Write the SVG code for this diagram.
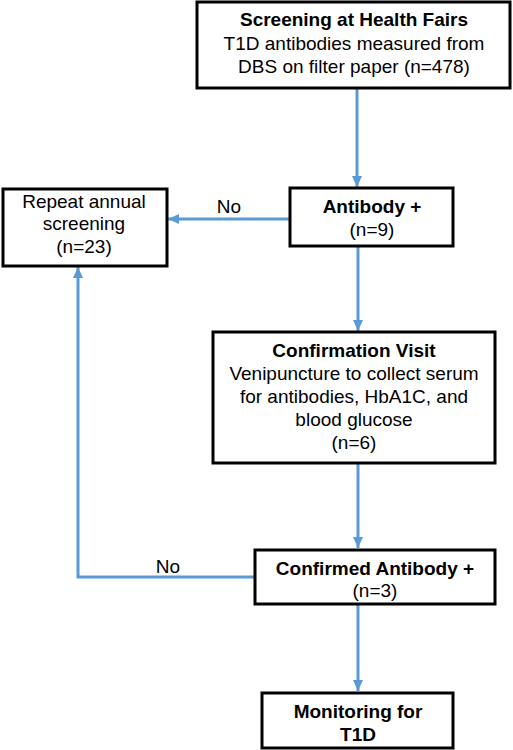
<svg xmlns="http://www.w3.org/2000/svg" width="513" height="750" viewBox="0 0 513 750">
<defs>
<style>
.box{fill:#fff;stroke:#000;stroke-width:3}
.t{font-family:"Liberation Sans",Arial,sans-serif;font-size:19px;fill:#000;text-anchor:middle}
.b{font-weight:bold}
.c{fill:none;stroke:#5b9bd5;stroke-width:3}
</style>
<marker id="ah" markerUnits="userSpaceOnUse" markerWidth="11" markerHeight="11" viewBox="0 0 11 11" refX="11" refY="5.5" orient="auto">
<path d="M0,0.5 L11,5.5 L0,10.5 Z" fill="#5b9bd5"/>
</marker>
</defs>
<rect width="513" height="750" fill="#fff"/>
<g id="connectors">
<path class="c" d="M357,89 V187" marker-end="url(#ah)"/>
<path class="c" d="M290,219 H168" marker-end="url(#ah)"/>
<text class="t" x="229" y="213">No</text>
<path class="c" d="M358,246 V331" marker-end="url(#ah)"/>
<path class="c" d="M358,464 V548" marker-end="url(#ah)"/>
<path class="c" d="M255,577 H78 V267" marker-end="url(#ah)"/>
<text class="t" x="168" y="573">No</text>
<path class="c" d="M358,604 V691" marker-end="url(#ah)"/>
</g>
<g id="screening">
<rect class="box" x="197" y="2" width="313" height="86"/>
<text class="t b" x="354" y="26">Screening at Health Fairs</text>
<text class="t" x="354" y="50">T1D antibodies measured from</text>
<text class="t" x="354" y="73">DBS on filter paper (n=478)</text>
</g>
<g id="antibody">
<rect class="box" x="290" y="188" width="163" height="58"/>
<text class="t b" x="372" y="213">Antibody +</text>
<text class="t" x="372" y="236">(n=9)</text>
</g>
<g id="repeat">
<rect class="box" x="3" y="189" width="164" height="77"/>
<text class="t" x="84" y="208">Repeat annual</text>
<text class="t" x="84" y="230">screening</text>
<text class="t" x="84" y="253">(n=23)</text>
</g>
<g id="confirmation">
<rect class="box" x="213" y="332" width="282" height="131"/>
<text class="t b" x="354" y="357">Confirmation Visit</text>
<text class="t" x="354" y="380">Venipuncture to collect serum</text>
<text class="t" x="354" y="403">for antibodies, HbA1C, and</text>
<text class="t" x="354" y="426">blood glucose</text>
<text class="t" x="354" y="449">(n=6)</text>
</g>
<g id="confirmed">
<rect class="box" x="255" y="550" width="240" height="54"/>
<text class="t b" x="375" y="575">Confirmed Antibody +</text>
<text class="t" x="375" y="597">(n=3)</text>
</g>
<g id="monitoring">
<rect class="box" x="262" y="693" width="191" height="55"/>
<text class="t b" x="358" y="718">Monitoring for</text>
<text class="t b" x="358" y="741">T1D</text>
</g>
</svg>
